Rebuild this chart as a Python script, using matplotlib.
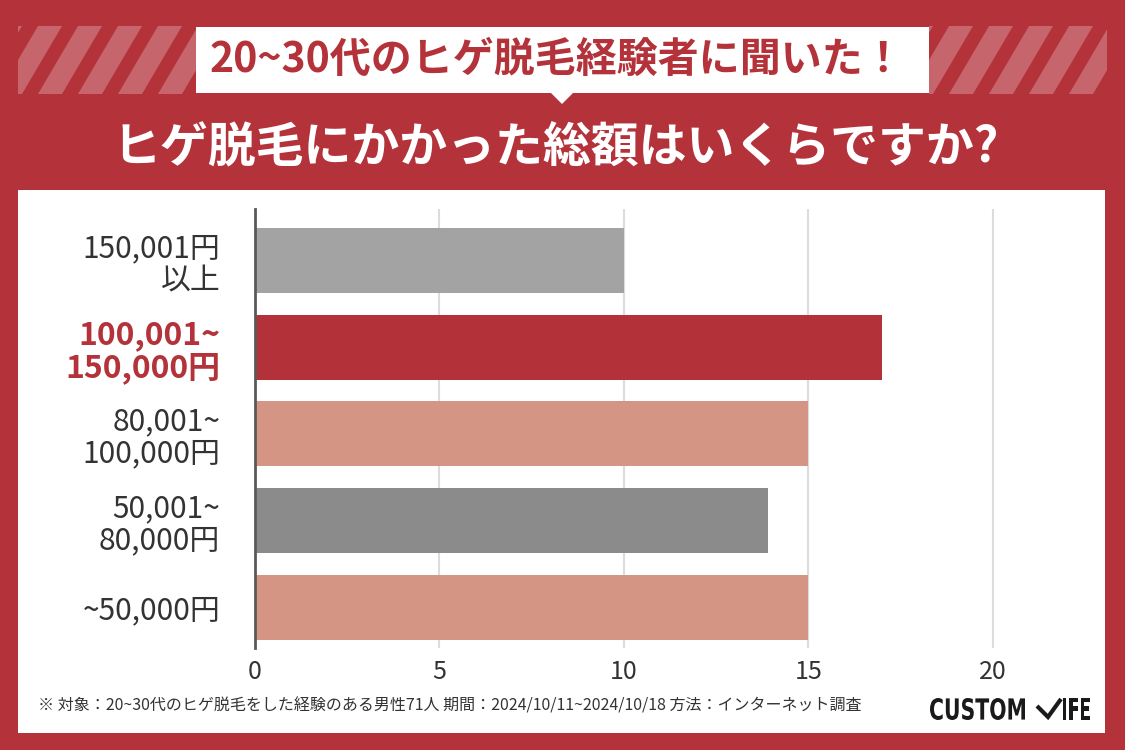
import matplotlib
matplotlib.use("Agg")
import matplotlib.pyplot as plt
from matplotlib.patches import Rectangle, Polygon, PathPatch
from matplotlib.textpath import TextPath
from matplotlib.font_manager import FontProperties
from matplotlib.transforms import Affine2D

plt.rcParams['font.family'] = ['Noto Sans CJK JP', 'DejaVu Sans']

# data
categories = ["150,001円\n以上", "100,001~\n150,000円", "80,001~\n100,000円",
              "50,001~\n80,000円", "~50,000円"]
counts = [10, 17, 15, 13.9, 15]
bar_colors = ["#a3a3a3", "#b3323a", "#d49585", "#8b8b8b", "#d49585"]
highlight = 1
xticks = [0, 5, 10, 15, 20]

title_box = "20~30代のヒゲ脱毛経験者に聞いた！"
title_main = "ヒゲ脱毛にかかった総額はいくらですか?"
note = ("※ 対象：20~30代のヒゲ脱毛をした経験のある男性71人 "
        "期間：2024/10/11~2024/10/18 方法：インターネット調査")

W, H = 1125, 750
RED = "#b4323a"


def squeezed_text(ax, s, x0, x1, ytop, ybot, color):
    # draw text as a path, stretched to fit a pixel box (y axis inverted)
    tp = TextPath((0, 0), s, size=100,
                  prop=FontProperties(family="DejaVu Sans", weight="bold"))
    ext = tp.get_extents()
    sx = (x1 - x0) / ext.width
    sy = (ybot - ytop) / ext.height
    tr = (Affine2D().translate(-ext.x0, -ext.y0).scale(sx, -sy)
          .translate(x0, ybot))
    ax.add_patch(PathPatch(tr.transform_path(tp), facecolor=color, lw=0))


fig = plt.figure(figsize=(11.25, 7.5), dpi=100)
fig.patch.set_facecolor(RED)

# background layer in pixel coordinates
bg = fig.add_axes([0, 0, 1, 1])
bg.set_xlim(0, W)
bg.set_ylim(H, 0)
bg.axis("off")

# striped bands either side of the heading box
for x0, x1 in [(18, 196), (929, 1107)]:
    clip = Rectangle((x0, 26), x1 - x0, 68, transform=bg.transData)
    for xs in range(x0 - 60, x1 + 20, 40):
        p = Polygon([(xs, 94), (xs + 24, 94), (xs + 64, 26), (xs + 40, 26)],
                    closed=True, facecolor="white", alpha=0.25, lw=0)
        bg.add_patch(p)
        p.set_clip_path(clip)

bg.add_patch(Rectangle((196, 27), 733, 66, facecolor="white", lw=0))
bg.add_patch(Polygon([(550, 92), (574, 92), (562, 104)], closed=True,
                     facecolor="white", lw=0))
bg.text(557, 60, title_box, color=RED, fontsize=29.5, fontweight="bold",
        ha="center", va="center")
bg.text(556, 148, title_main, color="white", fontsize=34.5, fontweight="bold",
        ha="center", va="center")

# white panel
bg.add_patch(Rectangle((18, 190), 1087, 543, facecolor="white", lw=0))
bg.text(38, 706, note, color="#333333", fontsize=11.5, ha="left", va="center")

# logo
squeezed_text(bg, "CUSTOM", 930, 1025, 698, 720, "#1a1a1a")
squeezed_text(bg, "IFE", 1063, 1090, 698, 720, "#1a1a1a")
bg.plot([1037, 1048, 1061], [706, 717, 699], color="#1a1a1a", lw=3,
        solid_capstyle="butt", solid_joinstyle="miter")

# chart
px_per_unit = (993 - 255) / 20.0
ax = fig.add_axes([255 / W, (H - 648) / H, (1090 - 255) / W, (648 - 209) / H])
ax.patch.set_alpha(0)
ypos = list(range(len(categories)))
ax.barh(ypos, counts, height=0.75, color=bar_colors, zorder=2)
ax.set_xlim(0, (1090 - 255) / px_per_unit)
ax.set_ylim(4.47, -0.595)
ax.set_xticks(xticks)
ax.set_xticklabels([str(t) for t in xticks])
ax.xaxis.grid(True, color="#dcdcdc", lw=1.5, zorder=0)
ax.set_axisbelow(True)
for s in ["top", "right", "bottom"]:
    ax.spines[s].set_visible(False)
ax.spines["left"].set_color("#5a5a5a")
ax.spines["left"].set_linewidth(2)
ax.spines["left"].set_zorder(3)
ax.tick_params(axis="x", length=0, pad=8, labelsize=18, labelcolor="#333333")
ax.tick_params(axis="y", length=0, pad=25, labelsize=21.5, labelcolor="#333333")
ax.set_yticks(ypos)
ax.set_yticklabels(categories, linespacing=1.05)
for i, lab in enumerate(ax.get_yticklabels()):
    lab.set_ha("right")
    if i == highlight:
        lab.set_color(RED)
        lab.set_fontweight("bold")
        lab.set_fontsize(23)

fig.savefig("out.png", dpi=100, facecolor=fig.get_facecolor())
